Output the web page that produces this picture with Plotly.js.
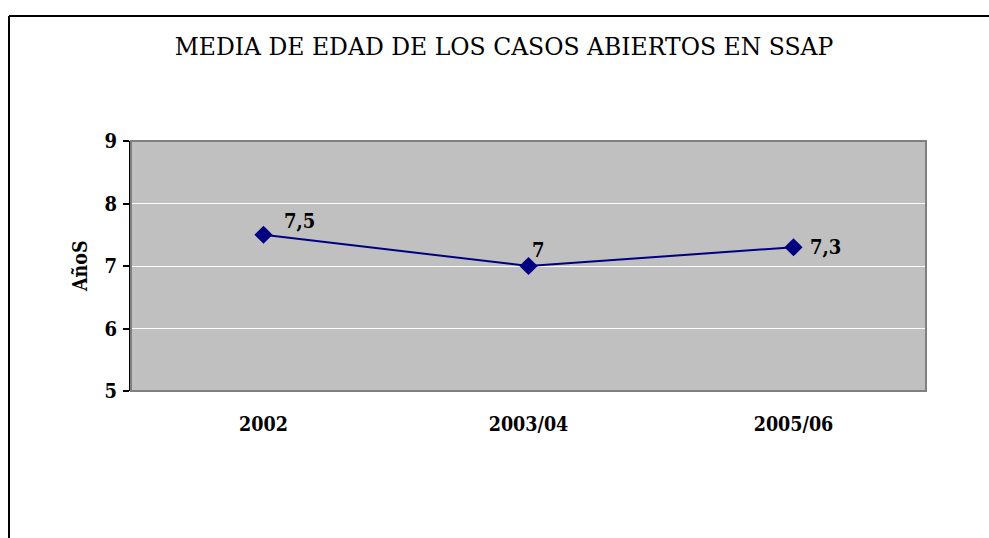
<!DOCTYPE html>
<html>
<head>
<meta charset="utf-8">
<script src="https://cdn.plot.ly/plotly-3.0.1.min.js"></script>
<style>
html,body{margin:0;padding:0;background:#fff;}
#chart{width:989px;height:538px;}
</style>
</head>
<body>
<div id="chart"></div>
<script>
var categories = ["2002", "2003/04", "2005/06"];
var values = [7.5, 7, 7.3];
var yTicks = [5, 6, 7, 8, 9];
var labelShiftX = [36, 10, 32];
var labelShiftY = [14, 16, 0];

var FONT = "'DejaVu Serif Condensed', 'DejaVu Serif', serif";
var TFONT = "'DejaVu Serif', serif";
var W = 989, H = 538, L = 131, R = 63, T = 141, B = 147;
var pw = W - L - R, ph = H - T - B;
function px(x){ return (x - L) / pw; }
function py(y){ return (H - B - y) / ph; }

var trace = {
  x: categories,
  y: values,
  type: "scatter",
  mode: "lines+markers",
  line: {color: "#000080", width: 2},
  marker: {symbol: "diamond", size: 14, color: "#000080"},
  cliponaxis: false,
  hoverinfo: "skip"
};

var labelAnns = categories.map(function(c, i){
  return {
    x: i, y: values[i], xref: "x", yref: "y",
    text: String(values[i]).replace(".", ","),
    showarrow: false, xanchor: "center", yanchor: "middle",
    xshift: labelShiftX[i], yshift: labelShiftY[i],
    font: {family: FONT, size: 20, color: "#000", weight: "bold"}
  };
});

var layout = {
  width: W, height: H,
  margin: {l: L, r: R, t: T, b: B, pad: 0},
  paper_bgcolor: "#ffffff",
  plot_bgcolor: "#c0c0c0",
  showlegend: false,
  font: {family: FONT, color: "#000"},
  title: {
    text: "MEDIA DE EDAD DE LOS CASOS ABIERTOS EN SSAP",
    font: {family: TFONT, size: 23.5, color: "#000"},
    x: 504 / W, xref: "container", xanchor: "center",
    y: 1 - 47 / H, yref: "container", yanchor: "middle"
  },
  xaxis: {
    type: "category",
    range: [-0.5, 2.5],
    showgrid: false,
    zeroline: false,
    showline: false,
    ticks: "",
    ticklabelstandoff: 19,
    tickfont: {family: FONT, size: 19.5, color: "#000", weight: "bold"},
    fixedrange: true
  },
  yaxis: {
    range: [5, 9],
    tickvals: yTicks,
    ticktext: yTicks.map(String),
    showgrid: true,
    gridcolor: "#ffffff",
    gridwidth: 1,
    zeroline: false,
    showline: true,
    linecolor: "#000",
    linewidth: 2,
    ticks: "outside",
    ticklen: 6,
    tickwidth: 2,
    tickcolor: "#000",
    ticklabelstandoff: 2,
    tickfont: {family: FONT, size: 20, color: "#000", weight: "bold"},
    fixedrange: true
  },
  shapes: [
    {type: "rect", xref: "paper", yref: "paper", x0: 0, x1: 1, y0: 0, y1: 1,
     line: {color: "#808080", width: 2}, layer: "above"},
    {type: "line", xref: "paper", yref: "paper", x0: px(9), x1: px(989), y0: py(16), y1: py(16),
     line: {color: "#000", width: 2}},
    {type: "line", xref: "paper", yref: "paper", x0: px(9), x1: px(9), y0: py(16), y1: py(540),
     line: {color: "#000", width: 2}}
  ],
  annotations: [
    {text: "AñoS", xref: "paper", yref: "paper", x: px(80), y: py(266),
     xanchor: "center", yanchor: "middle", textangle: -90, showarrow: false,
     font: {family: FONT, size: 19.5, color: "#000", weight: "bold"}}
  ].concat(labelAnns)
};

Plotly.newPlot("chart", [trace], layout, {displayModeBar: false, staticPlot: true});
</script>
</body>
</html>
